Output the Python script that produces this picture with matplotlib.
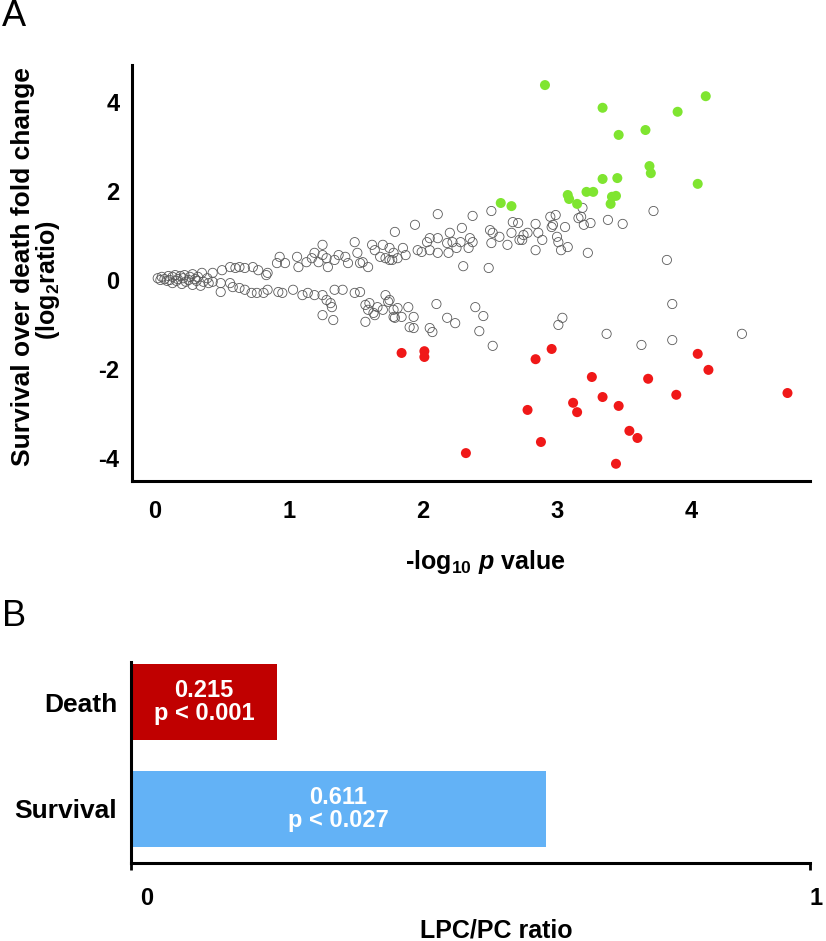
import matplotlib
matplotlib.use("Agg")
import matplotlib.pyplot as plt
import matplotlib.transforms as mtransforms

plt.rcParams['font.family'] = ['Liberation Sans', 'DejaVu Sans']
plt.rcParams['font.weight'] = 'bold'
plt.rcParams['mathtext.fontset'] = 'custom'
plt.rcParams['mathtext.rm'] = 'Liberation Sans:bold'
plt.rcParams['mathtext.bf'] = 'Liberation Sans:bold'
plt.rcParams['mathtext.it'] = 'Liberation Sans:italic:bold'

# ---------------- Panel A data ----------------
# not significant lipids (hollow circles): -log10 p, log2 ratio
ns_x = [0.02, 0.05, 0.07, 0.10, 0.11, 0.13, 0.15, 0.17, 0.19, 0.21, 0.22, 0.25, 0.26, 0.28, 0.30,
        0.32, 0.35, 0.36, 0.39, 0.40, 0.43, 0.04, 0.09, 0.16, 0.23, 0.31, 0.13, 0.20, 0.28, 0.34,
        0.43, 0.50, 0.56, 0.60, 0.63, 0.67, 0.73, 0.83, 0.77,
        0.49, 0.49, 0.56, 0.58, 0.63, 0.67, 0.72, 0.76, 0.81, 0.84,
        0.91, 0.93, 0.97, 1.06, 1.07, 1.13, 1.17, 1.19, 1.22, 1.25, 1.25, 1.28, 1.29, 1.34, 1.37,
        1.42, 1.44, 1.49, 1.51, 1.53, 1.55, 1.59, 1.62, 1.64, 1.68, 1.70, 1.72, 1.75,
        0.84, 0.92, 0.95, 1.03, 1.10, 1.14, 1.19, 1.25, 1.28, 1.31, 1.32, 1.34, 1.40, 1.49, 1.53,
        1.25, 1.33, 1.57, 1.59, 1.57, 1.64, 1.66, 1.70, 1.72, 1.74, 1.78, 1.60, 1.63,
        1.79, 1.94, 2.11, 2.37, 2.51, 2.29, 2.20, 2.05, 2.11, 2.03, 2.18, 2.22, 2.28, 2.35, 2.37,
        2.50, 2.52, 2.57, 2.51, 2.63, 2.66, 2.67, 2.71, 2.72, 1.75, 1.78, 1.85, 1.87, 1.96, 1.99,
        2.05, 2.11, 2.19, 2.25, 2.34, 1.81, 1.77, 2.30, 2.49,
        1.75, 1.81, 1.78, 1.89, 1.79, 1.84, 1.93, 1.90, 1.93, 2.05, 2.07, 2.10, 2.18, 2.24, 2.39,
        2.45, 2.42, 2.52,
        2.74, 2.75, 2.78, 2.84, 2.84, 2.86, 2.89, 2.95, 2.96, 2.97, 2.99, 3.00, 3.01, 3.03, 3.06,
        3.08, 3.16, 3.18, 3.20, 3.25, 3.23, 3.38, 3.49, 3.72, 3.82, 3.19,
        3.04, 3.01, 3.37, 3.63, 3.86, 3.86, 4.38]
ns_y = [0.04, 0.07, 0.02, 0.09, 0.00, 0.07, 0.11, 0.02, 0.09, 0.04, 0.11, 0.00, 0.07, 0.13, 0.02,
        0.07, 0.16, -0.04, 0.04, -0.07, -0.04, 0.00, -0.02, -0.02, -0.04, -0.02, -0.07, -0.09, -0.11, -0.13,
        0.16, 0.22, 0.29, 0.27, 0.29, 0.27, 0.29, 0.11, 0.22,
        -0.07, -0.27, -0.07, -0.16, -0.18, -0.22, -0.29, -0.29, -0.29, -0.22,
        0.38, 0.52, 0.38, 0.52, 0.29, 0.40, 0.49, 0.61, 0.40, 0.79, 0.56, 0.49, 0.29, 0.45, 0.56,
        0.52, 0.38, 0.85, 0.61, 0.38, 0.40, 0.29, 0.79, 0.67, 0.52, 0.79, 0.49, 0.45,
        0.16, -0.27, -0.29, -0.22, -0.34, -0.29, -0.34, -0.34, -0.45, -0.52, -0.61, -0.22, -0.22, -0.29, -0.27,
        -0.79, -0.90, -0.56, -0.67, -0.94, -0.79, -0.61, -0.67, -0.34, -0.49, -0.83, -0.52, -0.74,
        1.08, 1.24, 1.48, 1.44, 1.55, 1.17, 1.06, 0.94, 0.94, 0.85, 0.83, 0.85, 0.85, 0.94, 0.85,
        1.12, 1.06, 0.97, 0.83, 0.79, 1.06, 1.30, 1.28, 0.90, 0.72, 0.61, 0.72, 0.56, 0.67, 0.63,
        0.67, 0.61, 0.61, 0.72, 0.72, 0.49, 0.45, 0.31, 0.27,
        -0.45, -0.63, -0.67, -0.61, -0.85, -0.83, -0.83, -1.06, -1.08, -1.08, -1.17, -0.54, -0.85, -0.97, -0.61,
        -0.81, -1.15, -1.48,
        0.90, 1.01, 1.06, 1.26, 0.67, 1.06, 0.90, 1.42, 1.19, 1.24, 1.46, 0.97, 0.85, 0.67, 1.19,
        0.74, 1.39, 1.42, 1.24, 1.28, 0.61, 1.35, 1.26, 1.55, 0.45, 1.62,
        -0.85, -1.01, -1.21, -1.46, -0.54, -1.35, -1.21]

# increased in survivors (green)
up_x = [2.91, 3.34, 3.46, 3.66, 3.90, 4.11, 3.69, 3.70, 4.05, 3.34, 3.45, 2.58, 2.66, 3.08,
        3.09, 3.22, 3.27, 3.41, 3.44, 3.40, 3.15]
up_y = [4.38, 3.87, 3.26, 3.37, 3.78, 4.13, 2.56, 2.40, 2.16, 2.27, 2.29, 1.73, 1.66, 1.91,
        1.82, 1.98, 1.98, 1.87, 1.89, 1.71, 1.71]

# decreased in survivors (red)
down_x = [1.84, 2.01, 2.01, 2.32, 2.84, 2.96, 2.78, 2.88, 3.26, 3.34, 3.12, 3.15, 3.46, 3.54,
          3.60, 3.44, 3.68, 3.89, 4.05, 4.13, 4.72]
down_y = [-1.64, -1.60, -1.73, -3.89, -1.78, -1.55, -2.92, -3.64, -2.18, -2.63, -2.76, -2.97,
          -2.83, -3.39, -3.55, -4.13, -2.22, -2.58, -1.66, -2.02, -2.54]

xticks_a = [0, 1, 2, 3, 4]
yticks_a = [-4, -2, 0, 2, 4]

# ---------------- Panel B data ----------------
groups = ['Death', 'Survival']
ratios = [0.215, 0.611]
pvals = ['p < 0.001', 'p < 0.027']
bar_colors = ['#C00000', '#63B2F6']

W, H = 826, 941
fig = plt.figure(figsize=(W / 100, H / 100), dpi=100)

def fx(px):
    return px / W

def fy(py):
    return 1 - py / H

# ---- Panel A ----
ax = fig.add_axes([fx(132), fy(481), (810 - 132) / W, (481 - 65) / H])
ax.scatter(ns_x, ns_y, s=44, facecolors='none', edgecolors='#5a5a5a', linewidths=0.6, zorder=2)
ax.scatter(up_x, up_y, s=52, color='#7FE530', edgecolors='none', zorder=3)
ax.scatter(down_x, down_y, s=52, color='#F01818', edgecolors='none', zorder=3)
ax.set_xlim(-0.172, 4.888)
ax.set_ylim(-4.517, 4.831)
ax.set_xticks(xticks_a)
ax.set_yticks(yticks_a)
ax.set_xticklabels([str(t) for t in xticks_a])
ax.set_yticklabels([str(t) for t in yticks_a])
for s in ['top', 'right']:
    ax.spines[s].set_visible(False)
for s in ['left', 'bottom']:
    ax.spines[s].set_linewidth(2.2)
    ax.spines[s].set_color('black')
ax.tick_params(axis='both', length=0, labelsize=17)
ax.tick_params(axis='x', pad=14)
ax.tick_params(axis='y', pad=9)
for lab in ax.get_xticklabels() + ax.get_yticklabels():
    lab.set_fontweight('bold')

ax.text((485 - 132) / 678, (481 - 562) / 416, r'-log$_{10}$ $\it{p}$ value', transform=ax.transAxes,
        ha='center', va='center', fontsize=18, fontweight='bold')

fig.text(fx(23), fy(267), 'Survival over death fold change', rotation=90, ha='center', va='center',
         fontsize=19, fontweight='bold')
fig.text(fx(48), fy(280), r'(log$_{2}$ratio)', rotation=90, ha='center', va='center',
         fontsize=18, fontweight='bold')

fig.text(fx(2), fy(17), 'A', ha='left', va='center', fontsize=26, fontweight='normal')
fig.text(fx(2), fy(617), 'B', ha='left', va='center', fontsize=26, fontweight='normal')

# ---- Panel B ----
bx = fig.add_axes([fx(131), fy(863), (810 - 131) / W, (863 - 662) / H])
ypos = [1, 0]
bx.barh(ypos, ratios, height=0.71, color=bar_colors, zorder=2)
for yv, r, p in zip(ypos, ratios, pvals):
    bx.text(r / 2, yv, f'{r:.3f}\n{p}', ha='center', va='center', color='white',
            fontsize=17, fontweight='bold', linespacing=1.05, zorder=3)
bx.set_xlim(0, 1)
bx.set_ylim(-0.505, 1.374)
bx.set_yticks(ypos)
bx.set_yticklabels(groups)
bx.set_xticks([0, 1])
bx.set_xticklabels(['0', '1'])
for s in ['top', 'right']:
    bx.spines[s].set_visible(False)
for s in ['left', 'bottom']:
    bx.spines[s].set_linewidth(2.2)
    bx.spines[s].set_color('black')
bx.tick_params(axis='y', length=0, labelsize=19, pad=10)
bx.tick_params(axis='x', length=5, width=2, direction='out', labelsize=17, pad=12)
xlabs = bx.get_xticklabels()
for lab, dx in zip(xlabs, [16, 6]):
    off = mtransforms.ScaledTranslation(dx / 100, 0, fig.dpi_scale_trans)
    lab.set_transform(lab.get_transform() + off)
    lab.set_fontweight('bold')
for lab in bx.get_yticklabels():
    lab.set_fontweight('bold')
bx.text((496 - 131) / 679, (863 - 930) / 201, 'LPC/PC ratio', transform=bx.transAxes,
        ha='center', va='center', fontsize=18, fontweight='bold')

fig.savefig('out.png', dpi=100)
